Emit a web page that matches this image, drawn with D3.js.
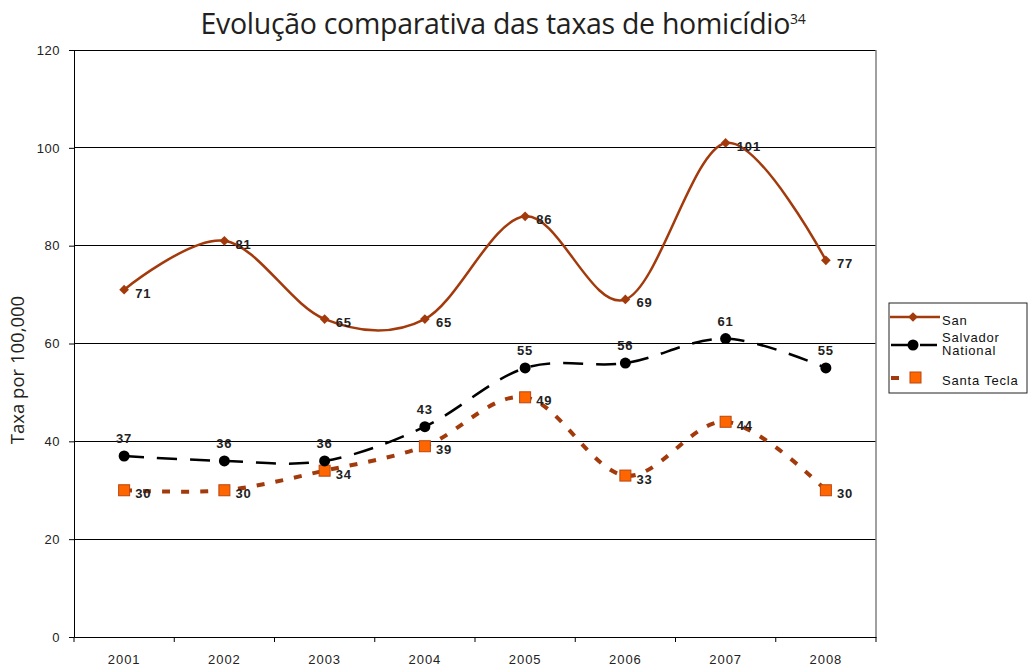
<!DOCTYPE html>
<html><head><meta charset="utf-8">
<script src="https://cdn.jsdelivr.net/npm/d3@7/dist/d3.min.js"></script>
<style>body{margin:0;background:#fff}svg{display:block}</style>
</head><body>
<svg id="c" width="1029" height="671"></svg>
<script>
const years = ["2001","2002","2003","2004","2005","2006","2007","2008"];
const sanSalvador = [71,81,65,65,86,69,101,77];
const national = [37,36,36,43,55,56,61,55];
const santaTecla = [30,30,34,39,49,33,44,30];
const yTicks = [0,20,40,60,80,100,120];

const svg = d3.select("#c");
const L=74, R=876, T=50, B=637;
const x = d3.scaleBand().domain(years).range([L,R]);
const y = d3.scaleLinear().domain([0,120]).range([B,T]);
const cx = d => x(d)+x.bandwidth()/2;

// title
const title = svg.append("text").attr("x",503).attr("y",34).attr("text-anchor","middle")
  .style("font-family","'Open Sans', sans-serif").style("font-size","28.5px").attr("fill","#231f20")
  .attr("letter-spacing","-0.3px");
title.append("tspan").text("Evolução comparativa das taxas de homicídio");
title.append("tspan").attr("font-size","14px").attr("dy","-10").text("34");

// gridlines
svg.append("g").selectAll("line").data(yTicks.filter(d=>d>0)).join("line")
  .attr("x1",L).attr("x2",R).attr("y1",d=>y(d)).attr("y2",d=>y(d))
  .attr("stroke","#000").attr("stroke-width",1).attr("shape-rendering","crispEdges");
// right border
svg.append("line").attr("x1",R).attr("x2",R).attr("y1",T).attr("y2",B)
  .attr("stroke","#808080").attr("stroke-width",1.5);

const tickFont = "Arial, 'Liberation Sans', sans-serif";
// y axis
const ya = svg.append("g").attr("transform",`translate(${L},0)`)
  .call(d3.axisLeft(y).tickValues(yTicks).tickSize(5).tickPadding(9));
ya.select(".domain").attr("stroke","#000");
ya.selectAll("text").style("font-family",tickFont).style("font-size","13px").attr("fill","#222").attr("letter-spacing","0.5px");

// x axis
const xa = svg.append("g").attr("transform",`translate(0,${B})`)
  .call(d3.axisBottom(x).tickSize(0).tickPadding(18));
xa.select(".domain").attr("stroke","#000");
xa.selectAll("text").style("font-family",tickFont).style("font-size","13px").attr("fill","#222").attr("letter-spacing","1px");
svg.append("g").selectAll("line").data(years.concat(["end"])).join("line")
  .attr("x1",(d,i)=>L+i*x.step()).attr("x2",(d,i)=>L+i*x.step())
  .attr("y1",B).attr("y2",B+5).attr("stroke","#000");

// y label
svg.append("text").attr("transform","translate(24,370) rotate(-90)").attr("text-anchor","middle")
  .style("font-family","'Open Sans', sans-serif").style("font-size","18.5px").attr("fill","#231f20").text("Taxa por 100,000");

const line = d3.line().x((d,i)=>cx(years[i])).y(d=>y(d)).curve(d3.curveCardinal.tension(0));
const lblFont = "Arial, 'Liberation Sans', sans-serif";

// San Salvador
const sanCol = "#a33a0c";
svg.append("path").attr("d",line(sanSalvador)).attr("fill","none").attr("stroke",sanCol).attr("stroke-width",2.5);
svg.append("g").selectAll("path").data(sanSalvador).join("path")
  .attr("d",d3.symbol(d3.symbolDiamond2,60)())
  .attr("transform",(d,i)=>`translate(${cx(years[i])},${y(d)})`).attr("fill",sanCol);
svg.append("g").selectAll("text").data(sanSalvador).join("text")
  .attr("x",(d,i)=>cx(years[i])+11).attr("y",d=>y(d)+8).text(d=>d)
  .style("font-family",lblFont).style("font-size","13px").style("font-weight","bold").attr("letter-spacing","1px").attr("fill","#222");

// Santa Tecla
const stCol = "#a33a0c";
svg.append("path").attr("d",line(santaTecla)).attr("fill","none").attr("stroke",stCol).attr("stroke-width",4).attr("stroke-dasharray","8,11");
svg.append("g").selectAll("rect").data(santaTecla).join("rect")
  .attr("x",(d,i)=>cx(years[i])-5.5).attr("y",d=>y(d)-5.5).attr("width",11).attr("height",11)
  .attr("fill","#ff6600").attr("stroke","#b8460e").attr("stroke-width",1);
svg.append("g").selectAll("text").data(santaTecla).join("text")
  .attr("x",(d,i)=>cx(years[i])+11).attr("y",d=>y(d)+8).text(d=>d)
  .style("font-family",lblFont).style("font-size","13px").style("font-weight","bold").attr("letter-spacing","1px").attr("fill","#222");

// National
svg.append("path").attr("d",line(national)).attr("fill","none").attr("stroke","#000").attr("stroke-width",2.5).attr("stroke-dasharray","20,13");
svg.append("g").selectAll("circle").data(national).join("circle")
  .attr("cx",(d,i)=>cx(years[i])).attr("cy",d=>y(d)).attr("r",5.5).attr("fill","#000");
svg.append("g").selectAll("text").data(national).join("text")
  .attr("x",(d,i)=>cx(years[i])).attr("y",d=>y(d)-13).attr("text-anchor","middle").text(d=>d)
  .style("font-family",lblFont).style("font-size","13px").style("font-weight","bold").attr("letter-spacing","1px").attr("fill","#222");

// legend
const lg = svg.append("g");
lg.append("rect").attr("x",889).attr("y",303).attr("width",138).attr("height",90)
  .attr("fill","#fff").attr("stroke","#222").attr("stroke-width",1);
lg.append("line").attr("x1",890).attr("x2",940).attr("y1",317).attr("y2",317).attr("stroke",sanCol).attr("stroke-width",2.5);
lg.append("path").attr("d",d3.symbol(d3.symbolDiamond2,60)()).attr("transform","translate(913,317)").attr("fill",sanCol);
lg.append("line").attr("x1",891).attr("x2",938).attr("y1",345).attr("y2",345).attr("stroke","#000").attr("stroke-width",2.5).attr("stroke-dasharray","17,12");
lg.append("circle").attr("cx",913).attr("cy",345).attr("r",5.5).attr("fill","#000");
lg.append("line").attr("x1",891).attr("x2",926).attr("y1",378).attr("y2",378).attr("stroke",stCol).attr("stroke-width",4).attr("stroke-dasharray","8,12");
lg.append("rect").attr("x",910).attr("y",372).attr("width",11).attr("height",11).attr("fill","#ff6600").attr("stroke","#b8460e");
const lt = [["San",325],["Salvador",342],["National",355],["Santa Tecla",385]];
lg.selectAll("text.l").data(lt).join("text").attr("x",942).attr("y",d=>d[1]).text(d=>d[0])
  .style("font-family",lblFont).style("font-size","13px").attr("letter-spacing","0.8px").attr("fill","#111");
</script>
</body></html>
